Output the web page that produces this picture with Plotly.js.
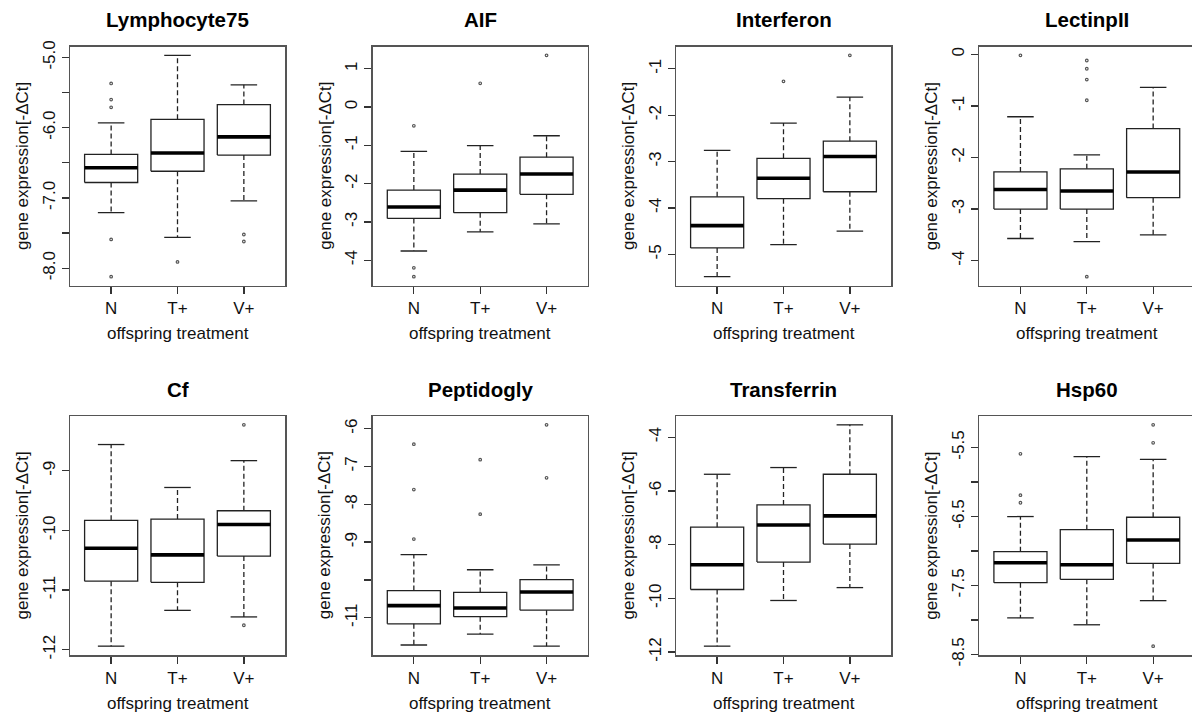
<!DOCTYPE html>
<html>
<head>
<meta charset="utf-8">
<script src="https://cdn.plot.ly/plotly-3.0.1.min.js"></script>
<style>
html,body{margin:0;padding:0;background:#fff;overflow:hidden;}
#chart{width:1196px;height:715px;}
</style>
</head>
<body>
<div id="chart"></div>
<script>
// ---- data ----
const genes = ['Lymphocyte75','AIF','Interferon','LectinpII','Cf','Peptidogly','Transferrin','Hsp60'];
const groups = ['N','T+','V+'];

// each row: [N, T+, V+]
const whiskerLow = [
  [-7.21,-7.56,-7.04],
  [-3.76,-3.26,-3.05],
  [-5.48,-4.79,-4.50],
  [-3.57,-3.63,-3.50],
  [-11.94,-11.34,-11.45],
  [-11.72,-11.43,-11.75],
  [-11.78,-10.08,-9.60],
  [-7.97,-8.07,-7.72]
];
const q1 = [
  [-6.78,-6.62,-6.39],
  [-2.91,-2.76,-2.28],
  [-4.86,-3.80,-3.65],
  [-3.00,-3.00,-2.78],
  [-10.85,-10.87,-10.43],
  [-11.16,-10.97,-10.80],
  [-9.67,-8.65,-7.98],
  [-7.46,-7.41,-7.18]
];
const medians = [
  [-6.57,-6.36,-6.13],
  [-2.61,-2.17,-1.75],
  [-4.38,-3.36,-2.89],
  [-2.62,-2.65,-2.28],
  [-10.30,-10.41,-9.90],
  [-10.68,-10.74,-10.32],
  [-8.75,-7.27,-6.93],
  [-7.17,-7.20,-6.84]
];
const q3 = [
  [-6.38,-5.88,-5.67],
  [-2.17,-1.75,-1.31],
  [-3.76,-2.93,-2.56],
  [-2.28,-2.22,-1.44],
  [-9.83,-9.81,-9.67],
  [-10.28,-10.33,-9.99],
  [-7.35,-6.52,-5.38],
  [-7.01,-6.69,-6.51]
];
const whiskerHigh = [
  [-5.93,-4.97,-5.39],
  [-1.16,-1.01,-0.75],
  [-2.76,-2.17,-1.61],
  [-1.21,-1.95,-0.64],
  [-8.56,-9.28,-8.83],
  [-9.33,-9.73,-9.60],
  [-5.38,-5.13,-3.54],
  [-6.50,-5.63,-5.67]
];
const outliers = [
  [[-5.37,-5.60,-5.71,-7.59,-8.12],[-7.91],[-7.52,-7.62]],
  [[-0.49,-4.20,-4.43],[0.62],[1.35]],
  [[],[-1.27],[-0.71]],
  [[-0.02],[-0.12,-0.28,-0.49,-0.89,-4.31],[]],
  [[],[],[-8.23,-11.59]],
  [[-6.41,-7.61,-8.92],[-6.82,-8.26],[-5.90,-7.30]],
  [[],[],[]],
  [[-5.59,-6.19,-6.30],[],[-5.17,-5.43,-8.38]]
];

const yTickVals = [
  [-8,-7.5,-7,-6.5,-6,-5.5,-5],
  [-4,-3,-2,-1,0,1],
  [-5,-4,-3,-2,-1],
  [-4,-3,-2,-1,0],
  [-12,-11,-10,-9],
  [-11,-10,-9,-8,-7,-6],
  [-12,-10,-8,-6,-4],
  [-8.5,-8,-7.5,-7,-6.5,-6,-5.5]
];
const yTickText = [
  ['-8.0','','-7.0','','-6.0','','-5.0'],
  ['-4','-3','-2','-1','0','1'],
  ['-5','-4','-3','-2','-1'],
  ['-4','-3','-2','-1','0'],
  ['-12','-11','-10','-9'],
  ['-11','','-9','-8','-7','-6'],
  ['-12','-10','-8','-6','-4'],
  ['-8.5','','-7.5','','-6.5','','-5.5']
];
const yTitle = 'gene expression[-ΔCt]';
const xTitle = 'offspring treatment';

// ---- layout geometry (pixels) ----
const W = 1196, H = 715;
const colLeft = [70, 372.7, 676, 979.3];
const plotW = 215;
const rowTop = [46.5, 416];
const rowBottom = [285.5, 655];
const boxHalf = 0.4, capHalf = 0.2;
const FONT = '"Liberation Sans", Arial, sans-serif';

const traces = [];
const layout = {
  width: W, height: H,
  margin: {l:0, r:0, t:0, b:0},
  paper_bgcolor: '#fff', plot_bgcolor: '#fff',
  showlegend: false,
  font: {family: FONT, size: 17, color: '#111'},
  annotations: []
};

genes.forEach((gene, g) => {
  const k = g + 1;
  const xa = 'x' + (k === 1 ? '' : k), ya = 'y' + (k === 1 ? '' : k);
  const row = Math.floor(g / 4), col = g % 4;

  const bx = [], by = [], mx = [], my = [], wx = [], wy = [], cx = [], cy = [], ox = [], oy = [];
  let lo = Infinity, hi = -Infinity;
  groups.forEach((grp, i) => {
    const c = i + 1;
    const a = q1[g][i], m = medians[g][i], b = q3[g][i];
    const wl = whiskerLow[g][i], wh = whiskerHigh[g][i];
    bx.push(c - boxHalf, c + boxHalf, c + boxHalf, c - boxHalf, c - boxHalf, null);
    by.push(a, a, b, b, a, null);
    mx.push(c - boxHalf, c + boxHalf, null);
    my.push(m, m, null);
    wx.push(c, c, null, c, c, null);
    wy.push(b, wh, null, a, wl, null);
    cx.push(c - capHalf, c + capHalf, null, c - capHalf, c + capHalf, null);
    cy.push(wh, wh, null, wl, wl, null);
    outliers[g][i].forEach(v => { ox.push(c); oy.push(v); });
    lo = Math.min(lo, wl, ...outliers[g][i]);
    hi = Math.max(hi, wh, ...outliers[g][i]);
  });

  const common = {xaxis: xa, yaxis: ya, hoverinfo: 'skip', connectgaps: false};
  traces.push(Object.assign({type:'scatter', mode:'lines', x: wx, y: wy,
    line:{color:'#222', width:1.3, dash:'5px,3px'}}, common));
  traces.push(Object.assign({type:'scatter', mode:'lines', x: cx, y: cy,
    line:{color:'#222', width:1.3}}, common));
  traces.push(Object.assign({type:'scatter', mode:'lines', x: bx, y: by,
    line:{color:'#222', width:1.3}}, common));
  traces.push(Object.assign({type:'scatter', mode:'lines', x: mx, y: my,
    line:{color:'#000', width:3.6}}, common));
  traces.push(Object.assign({type:'scatter', mode:'markers', x: ox, y: oy,
    marker:{symbol:'circle-open', size:2.6, color:'#555', line:{width:1.2, color:'#555'}}}, common));

  const pad = (hi - lo) * 0.04;
  const x0 = colLeft[col] / W, x1 = (colLeft[col] + plotW) / W;
  const y0 = 1 - rowBottom[row] / H, y1 = 1 - rowTop[row] / H;

  layout['xaxis' + (k === 1 ? '' : k)] = {
    domain: [x0, x1], anchor: ya, range: [0.5 - 0.12, 3.5 + 0.12],
    tickmode: 'array', tickvals: [1,2,3], ticktext: groups,
    ticks: 'outside', ticklen: 7, tickwidth: 1.3, tickcolor: '#333',
    tickfont: {family: FONT, size: 17, color: '#111'},
    showline: true, mirror: true, linecolor: '#555', linewidth: 1.5,
    showgrid: false, zeroline: false, fixedrange: true
  };
  layout['yaxis' + (k === 1 ? '' : k)] = {
    domain: [y0, y1], anchor: xa, range: [lo - pad, hi + pad],
    tickmode: 'array', tickvals: yTickVals[g], ticktext: yTickText[g],
    tickangle: -90,
    ticks: 'outside', ticklen: 7, tickwidth: 1.3, tickcolor: '#333',
    tickfont: {family: FONT, size: 17, color: '#111'},
    showline: true, mirror: true, linecolor: '#555', linewidth: 1.5,
    showgrid: false, zeroline: false, fixedrange: true
  };

  const xd = xa + ' domain', yd = ya + ' domain';
  layout.annotations.push({
    text: '<b>' + gene + '</b>', xref: xd, yref: yd, x: 0.5, y: 1, yshift: 27,
    xanchor: 'center', yanchor: 'middle', showarrow: false,
    font: {family: FONT, size: 20.5, color: '#000'}
  });
  layout.annotations.push({
    text: xTitle, xref: xd, yref: yd, x: 0.5, y: 0, yshift: -48,
    xanchor: 'center', yanchor: 'middle', showarrow: false,
    font: {family: FONT, size: 17, color: '#111'}
  });
  layout.annotations.push({
    text: yTitle, xref: xd, yref: yd, x: 0, y: 0.5, xshift: -48, textangle: -90,
    xanchor: 'center', yanchor: 'middle', showarrow: false,
    font: {family: FONT, size: 17, color: '#111'}
  });
});

Plotly.newPlot('chart', traces, layout, {staticPlot: true, displayModeBar: false});
</script>
</body>
</html>
